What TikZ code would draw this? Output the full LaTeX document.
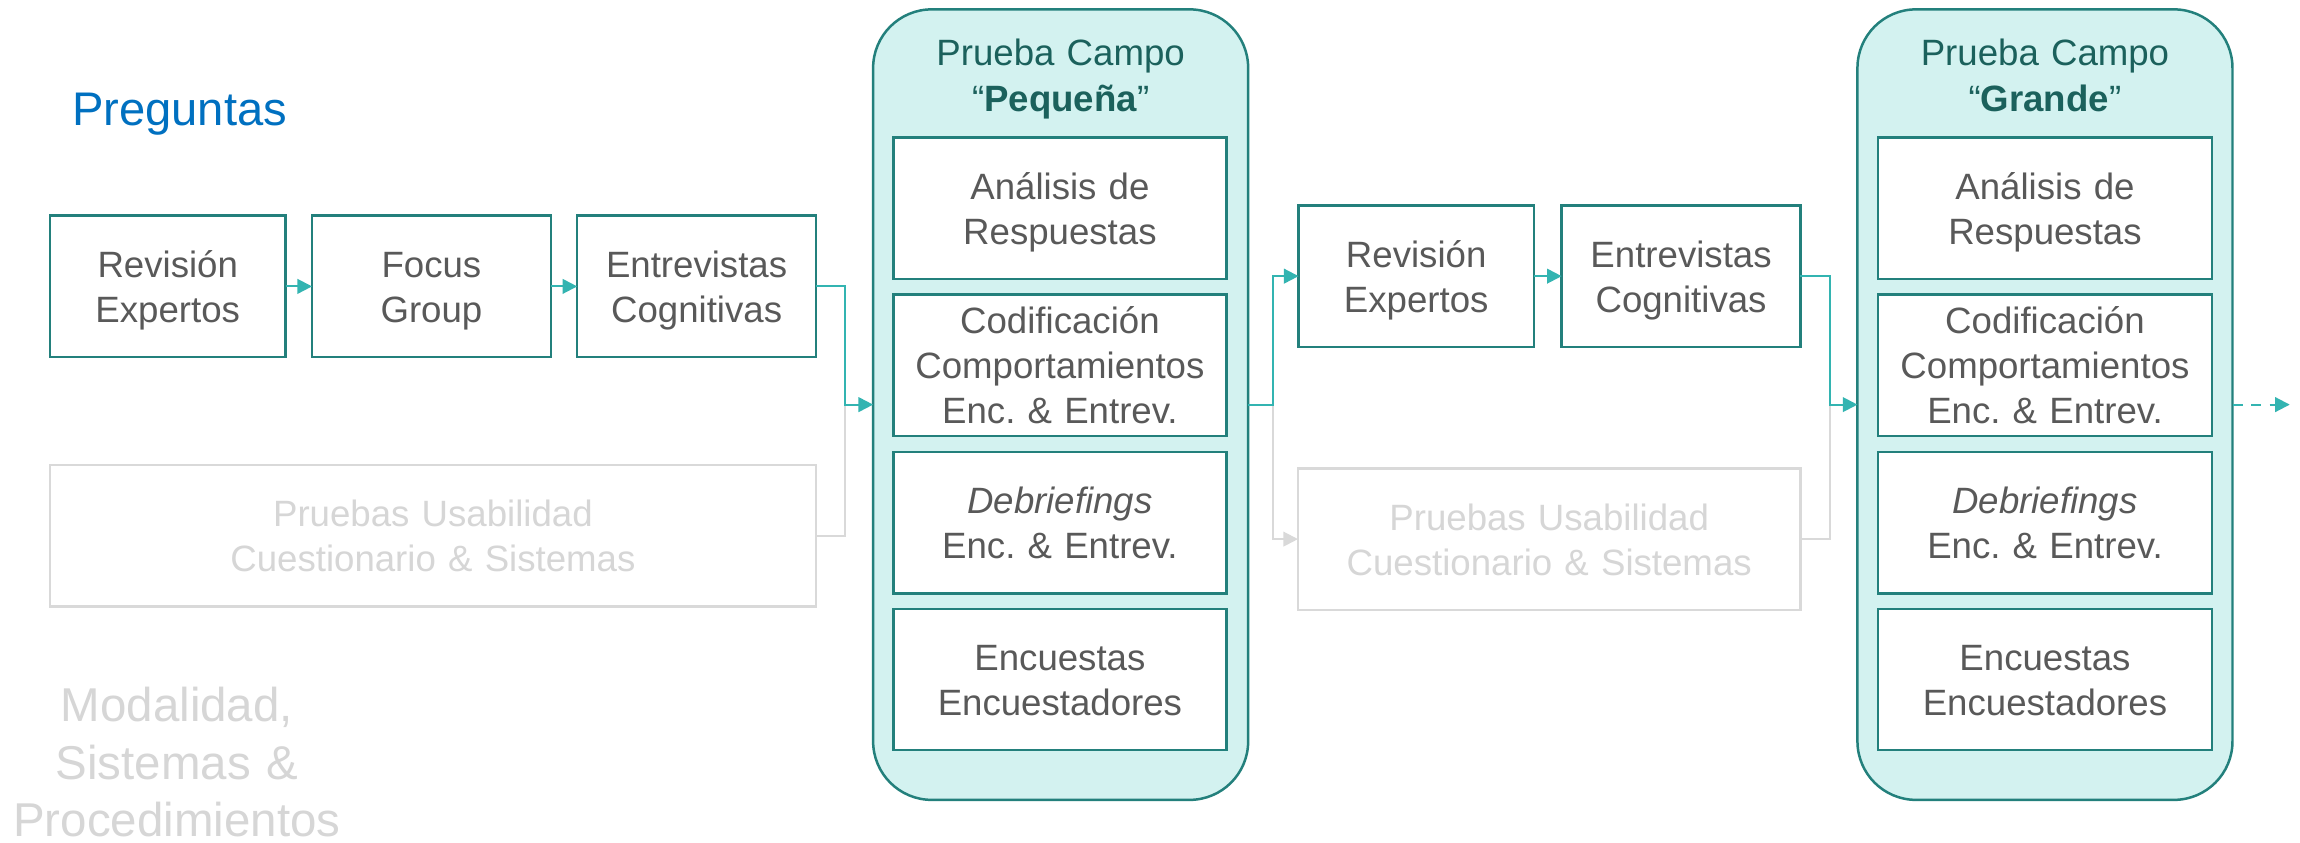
\documentclass[tikz,border=0pt]{standalone}
\usepackage{fontspec}
\setmainfont{Liberation Sans}
\usetikzlibrary{arrows.meta}
\frenchspacing
\definecolor{tealB}{HTML}{23807C}
\definecolor{tealF}{HTML}{D3F2F0}
\definecolor{tealA}{HTML}{33B4B1}
\definecolor{txtG}{HTML}{595959}
\definecolor{titleC}{HTML}{1B615C}
\definecolor{lightG}{HTML}{D9D9D9}
\definecolor{lightT}{HTML}{D6D6D6}
\definecolor{blueP}{HTML}{0070C0}
\begin{document}
\begin{tikzpicture}[x=1pt,y=-1pt,
  box/.style={draw=tealB, line width=1.7pt, fill=white, inner sep=0pt, outer sep=0pt,
    minimum height=96.5pt, text=txtG, font=\frenchspacing\fontsize{25}{30.8}\selectfont, align=center},
  gbox/.style={box, draw=lightG, line width=1.6pt, text=lightT},
  ltwo/.style={text width=#1, text height=0pt, text depth=12.4pt},
  lthree/.style={text width=#1, text height=0pt, text depth=43.2pt},
  campo/.style={draw=tealB, fill=tealF, line width=1.7pt, rounded corners=40pt,
    minimum width=256pt, minimum height=539.6pt, inner sep=0pt, outer sep=0pt},
  ctitle/.style={text=titleC, font=\fontsize{25}{31}\selectfont, align=center,
    text width=240pt, inner sep=0pt, anchor=base},
  conn/.style={draw=tealA, line width=1.4pt},
  arr/.style={conn, -{Triangle[length=10pt,width=10pt]}},
  gline/.style={draw=lightG, line width=1.4pt},
  garr/.style={gline, -{Triangle[length=10pt,width=10pt]}}
]
\fill[white] (0,0) rectangle (1570,574.8);
\useasboundingbox (0,0) rectangle (1570,574.8);

% left labels
\node[anchor=base west, text=blueP, font=\fontsize{32.2}{38}\selectfont, inner sep=0pt]
  (preg) at (49,86) {Preguntas};
\node[anchor=base, text=lightT, font=\fontsize{32.4}{39.3}\selectfont, align=center,
  text width=240pt, inner sep=0pt]
  (mod) at (120.75,492.5) {Modalidad,\hspace*{9pt}\\Sistemas \&\\Procedimientos};

% first stage
\node[box, ltwo=150pt, minimum width=161pt] (rev1) at (114.5,195.5) {Revisión\\Expertos};
\node[box, ltwo=150pt, minimum width=163pt] (fg) at (294.5,195.5) {Focus\\Group};
\node[box, ltwo=150pt, minimum width=163pt] (ent1) at (475.5,195.5) {Entrevistas\\Cognitivas};
\node[gbox, ltwo=500pt, minimum width=523pt] (pru1) at (295.5,365.75)
  {Pruebas Usabilidad\\Cuestionario \& Sistemas};

% Prueba campo pequena
\node[campo] (peq) at (724,276.2) {};
\node[ctitle] (peqT) at (724,44.8) {Prueba Campo\\“\textbf{Pequeña}”};
\node[box, ltwo=215pt, minimum width=227.5pt] (peqA) at (723.5,142.2) {Análisis de\\Respuestas};
\node[box, lthree=215pt, minimum width=227.5pt] (peqC) at (723.5,249.3)
  {Codificación\\Comportamientos\\Enc. \& Entrev.};
\node[box, ltwo=215pt, minimum width=227.5pt] (peqD) at (723.5,356.9)
  {\textit{Debriefings}\\Enc. \& Entrev.};
\node[box, ltwo=215pt, minimum width=227.5pt] (peqE) at (723.5,463.85)
  {Encuestas\\Encuestadores};

% second stage
\node[box, ltwo=150pt, minimum width=160.6pt] (rev2) at (966.7,188.5) {Revisión\\Expertos};
\node[box, ltwo=150pt, minimum width=163pt] (ent2) at (1147.5,188.5) {Entrevistas\\Cognitivas};
\node[gbox, ltwo=330pt, minimum width=343pt] (pru2) at (1057.5,368)
  {Pruebas Usabilidad\\Cuestionario \& Sistemas};

% Prueba campo grande
\node[campo] (gra) at (1395.9,276.2) {};
\node[ctitle] (graT) at (1395.9,44.8) {Prueba Campo\\“\textbf{Grande}”};
\node[box, ltwo=215pt, minimum width=227.7pt] (graA) at (1395.9,142.2) {Análisis de\\Respuestas};
\node[box, lthree=215pt, minimum width=227.7pt] (graC) at (1395.9,249.3)
  {Codificación\\Comportamientos\\Enc. \& Entrev.};
\node[box, ltwo=215pt, minimum width=227.7pt] (graD) at (1395.9,356.9)
  {\textit{Debriefings}\\Enc. \& Entrev.};
\node[box, ltwo=215pt, minimum width=227.7pt] (graE) at (1395.9,463.85)
  {Encuestas\\Encuestadores};

% connectors
\coordinate (j1) at (577,276.2);
\coordinate (j2) at (869,276.2);
\coordinate (j3) at (1249,276.2);
\coordinate (endc) at (1563,276.2);

\draw[gline] (pru1.east) -| (j1);
\draw[garr] (j2) |- (pru2.west);
\draw[gline] (pru2.east) -| (j3);

\draw[arr] (rev1.east) -- (fg.west);
\draw[arr] (fg.east) -- (ent1.west);
\draw[arr] (ent1.east) -| (j1) -- (peq.west);
\draw[arr] (peq.east) -- (j2) |- (rev2.west);
\draw[arr] (rev2.east) -- (ent2.west);
\draw[arr] (ent2.east) -| (j3) -- (gra.west);
\draw[arr, dash pattern=on 7pt off 5.7pt] (gra.east) -- (endc);
\end{tikzpicture}
\end{document}
